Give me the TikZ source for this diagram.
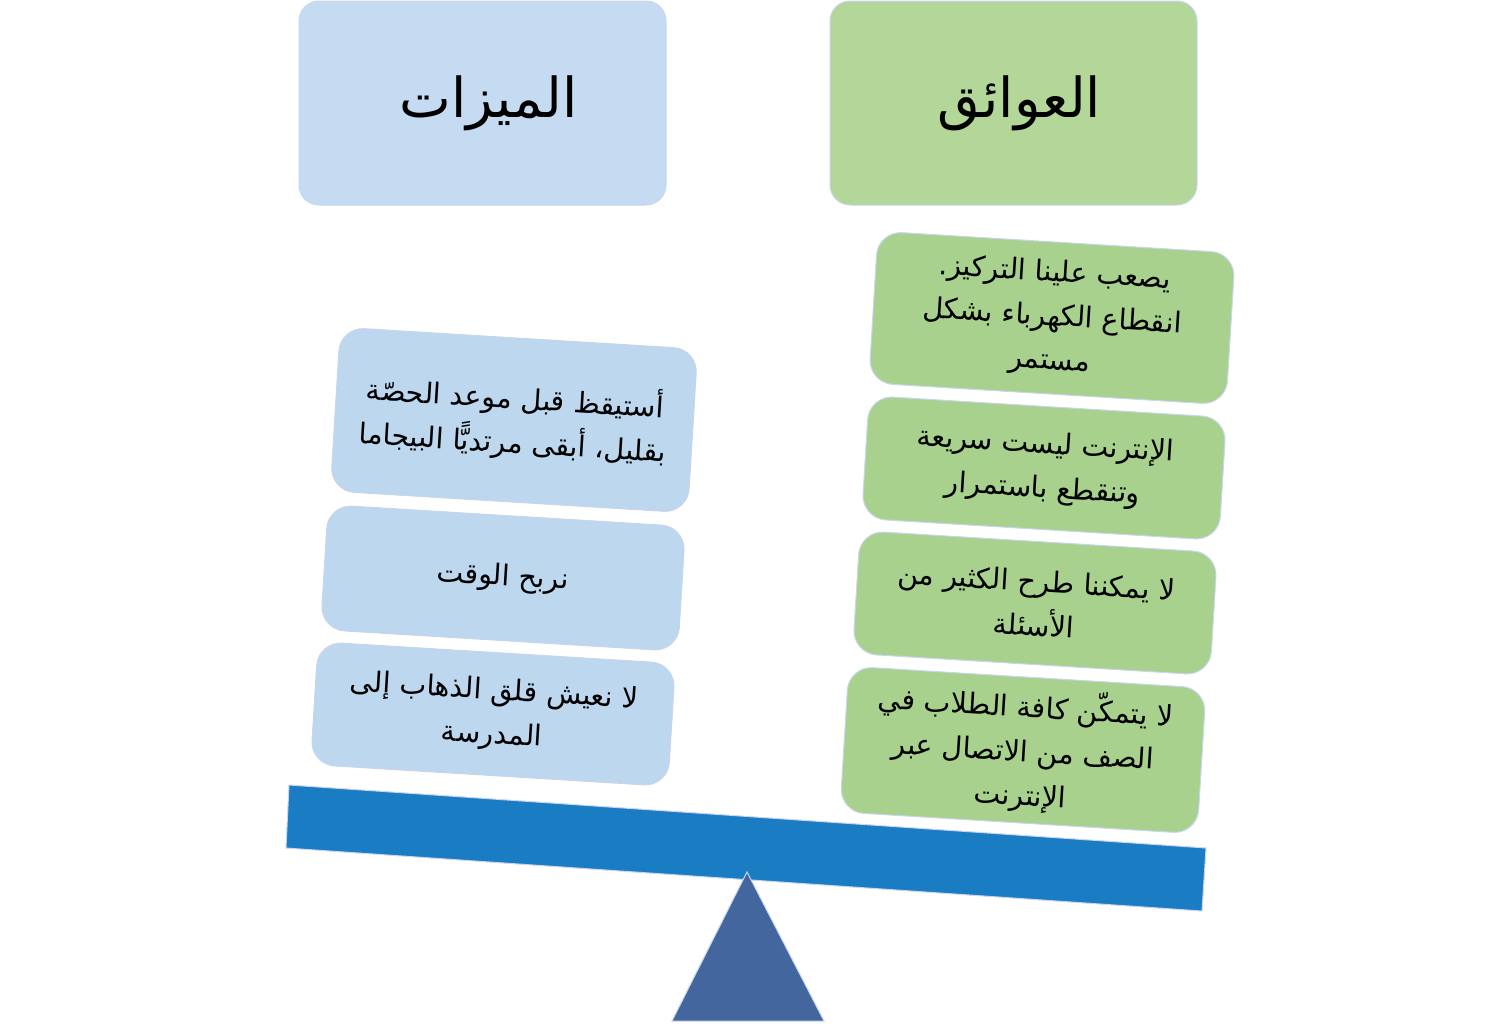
\documentclass[tikz,border=0pt]{standalone}
\usepackage{fontspec}
\newfontfamily\arabicfont[Script=Arabic]{DejaVu Sans}
\TeXXeTstate=1
\definecolor{hdrblue}{HTML}{C4DBF1}
\definecolor{hdrgreen}{HTML}{B3D699}
\definecolor{itmblue}{HTML}{BDD7EE}
\definecolor{itmgreen}{HTML}{A9D18E}
\definecolor{edgecol}{HTML}{C9D5EC}
\definecolor{beamblue}{HTML}{1A7DC4}
\definecolor{baseblue}{HTML}{43669F}
\begin{document}
\begin{tikzpicture}[x=1pt,y=-1pt,
  header/.style={draw=edgecol, line width=1pt, rounded corners=20pt, minimum width=367pt, minimum height=204pt, font=\arabicfont\fontsize{55}{66}\selectfont},
  item/.style={draw=edgecol, line width=1pt, rounded corners=24pt, minimum width=358pt, rotate=-3.5, align=center, font=\arabicfont\fontsize{28.5}{44}\selectfont},
  bitem/.style={item, fill=itmblue},
  gitem/.style={item, fill=itmgreen}]
\useasboundingbox (0,0) rectangle (1496,1023);
% headers
\node[header, fill=hdrblue] (hadv) at (482.5,103) {\hspace{12pt}\beginR الميزات\endR};
\node[header, fill=hdrgreen] (hdis) at (1013.5,103) {\hspace{12pt}\beginR العوائق\endR};
% right items
\node[gitem, minimum height=152pt] (r1) at (1052,318) {\beginR يصعب علينا التركيز.\endR\\ \beginR انقطاع الكهرباء بشكل\endR\\ \beginR مستمر\endR};
\node[gitem, minimum height=123pt] (r2) at (1044,468) {\beginR الإنترنت ليست سريعة\endR\\ \beginR وتنقطع باستمرار\endR};
\node[gitem, minimum height=123pt] (r3) at (1035,603) {\beginR لا يمكننا طرح الكثير من\endR\\ \beginR الأسئلة\endR};
\node[gitem, minimum height=146pt] (r4) at (1023,750) {\beginR لا يتمكّن كافة الطلاب في\endR\\ \beginR الصف من الاتصال عبر\endR\\ \beginR الإنترنت\endR};
% left items
\node[bitem, minimum height=164pt] (l1) at (514,420) {\beginR أستيقظ قبل موعد الحصّة\endR\\ \beginR بقليل، أبقى مرتديًّا البيجاما\endR};
\node[bitem, minimum height=125pt] (l2) at (503,578) {\beginR نربح الوقت\endR};
\node[bitem, minimum height=123pt] (l3) at (493,714) {\beginR لا نعيش قلق الذهاب إلى\endR\\ \beginR المدرسة\endR};
% balance
\draw[draw=edgecol, line width=1pt, fill=beamblue] (289,785) -- (1206,848) -- (1202,911) -- (286,848) -- cycle;
\draw[draw=edgecol, line width=1pt, fill=baseblue] (747,872) -- (824,1021) -- (672,1021) -- cycle;
\end{tikzpicture}
\end{document}
